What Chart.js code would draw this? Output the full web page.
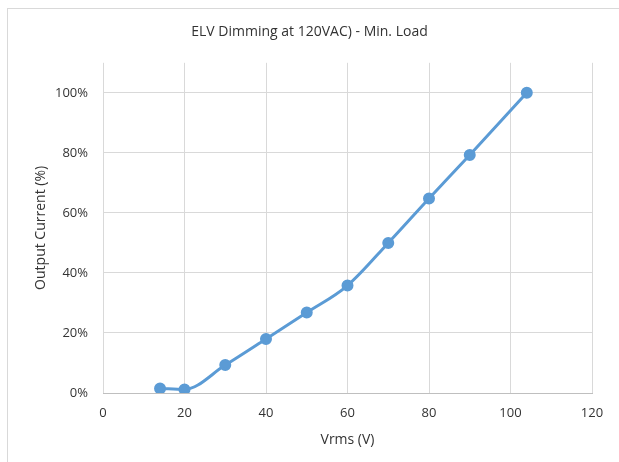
<!DOCTYPE html>
<html>
<head>
<meta charset="utf-8">
<script src="https://cdn.jsdelivr.net/npm/chart.js@4/dist/chart.umd.min.js"></script>
<style>
  html, body { margin: 0; padding: 0; background: #fff; }
  #wrap { position: relative; width: 619px; height: 462px; overflow: hidden; }
  #frame { position: absolute; left: 7px; top: 8px; width: 700px; height: 600px;
           border-left: 1px solid #d9d9d9; border-top: 1px solid #d9d9d9; }
  canvas { position: absolute; left: 0; top: 0; }
</style>
</head>
<body>
<div id="wrap">
  <div id="frame"></div>
  <canvas id="chart" width="619" height="462"></canvas>
</div>
<script>
// Vrms (V) vs output current (fraction of 100%)
const vrms = [14, 20, 30, 40, 50, 60, 70, 80, 90, 104];
const outputCurrent = [0.015, 0.012, 0.093, 0.18, 0.268, 0.358, 0.50, 0.648, 0.793, 1.00];

const chartTitle = 'ELV Dimming at 120VAC) - Min. Load';
const xTitle = 'Vrms (V)';
const yTitle = 'Output Current (%)';

const blue = '#5b9bd5';
const textColor = '#333333';
const fontFamily = "'Open Sans', 'Noto Sans', sans-serif";

const points = vrms.map((v, i) => ({ x: v, y: outputCurrent[i] }));

new Chart(document.getElementById('chart'), {
    type: 'scatter',
    data: {
        datasets: [{
            data: points,
            showLine: true,
            borderColor: blue,
            backgroundColor: blue,
            borderWidth: 3,
            pointRadius: 4.5,
            pointHoverRadius: 4.5,
            cubicInterpolationMode: 'monotone'
        }]
    },
    options: {
        responsive: false,
        animation: false,
        layout: { padding: 0 },
        plugins: {
            legend: { display: false },
            tooltip: { enabled: false },
            title: {
                display: true,
                text: chartTitle,
                color: textColor,
                font: { family: fontFamily, size: 14, weight: 'normal' },
                padding: { top: 24, bottom: 22 }
            }
        },
        scales: {
            x: {
                type: 'linear',
                min: 0,
                max: 120,
                ticks: {
                    stepSize: 20,
                    color: textColor,
                    font: { family: fontFamily, size: 13 },
                    padding: 12,
                    maxRotation: 0
                },
                grid: { color: '#d9d9d9', lineWidth: 1, drawTicks: false },
                border: { color: '#bfbfbf', width: 1 },
                title: {
                    display: true,
                    text: xTitle,
                    color: textColor,
                    font: { family: fontFamily, size: 14 },
                    padding: { top: 4, bottom: 14 }
                },
                afterFit: scale => { scale.height = 69; }
            },
            y: {
                min: 0,
                max: 1.1,
                afterBuildTicks: axis => {
                    axis.ticks = axis.ticks.filter(t => t.value <= 1.0001);
                },
                ticks: {
                    stepSize: 0.2,
                    color: textColor,
                    font: { family: fontFamily, size: 13 },
                    padding: 15,
                    callback: v => Math.round(v * 100) + '%'
                },
                grid: { color: '#d9d9d9', lineWidth: 1, drawTicks: false },
                border: { display: false },
                title: {
                    display: true,
                    text: yTitle,
                    color: textColor,
                    font: { family: fontFamily, size: 14 },
                    padding: { top: 33, bottom: 0 }
                },
                afterFit: scale => { scale.width = 103; }
            },
            // empty right-hand axis only reserves the space right of the plot
            yRight: {
                position: 'right',
                min: 0,
                max: 1.1,
                ticks: { display: false },
                grid: { display: false },
                border: { display: false },
                afterFit: scale => { scale.width = 27; }
            }
        }
    }
});
</script>
</body>
</html>
